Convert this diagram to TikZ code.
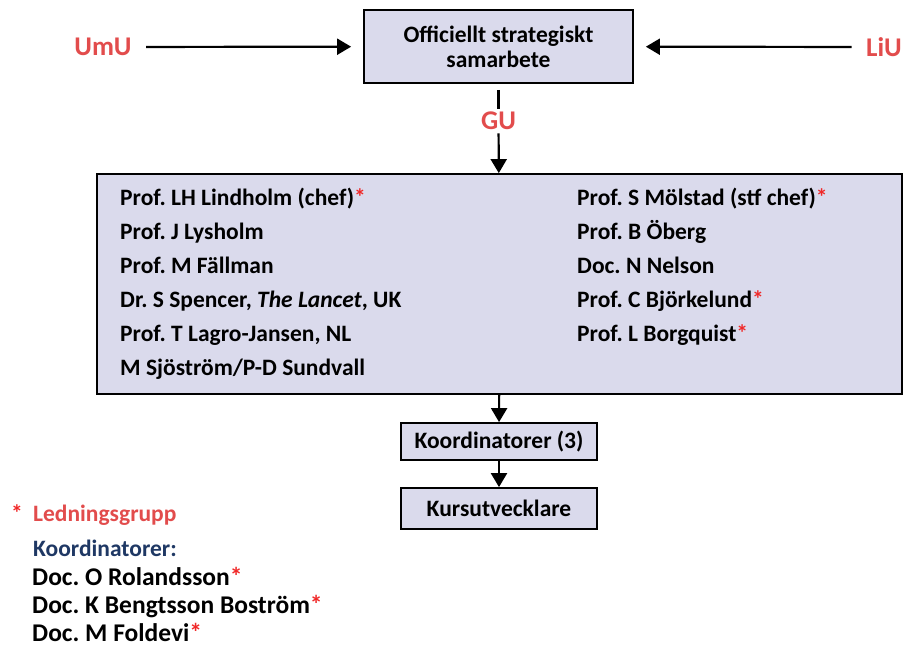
\documentclass[tikz,border=0pt]{standalone}
\usepackage{fontspec}
\setmainfont{Carlito}
\usepackage{xcolor}
\usepackage{tikz}
\usetikzlibrary{arrows.meta, positioning}
\definecolor{boxfill}{RGB}{218,218,236}
\definecolor{unired}{RGB}{226,76,76}
\definecolor{starred}{RGB}{240,40,40}
\definecolor{koordblue}{RGB}{31,56,100}
\newcommand{\redstar}{\textcolor{starred}{*}}
\frenchspacing

\begin{document}
\begin{tikzpicture}[
            box/.style={rectangle, draw=black, line width=1.8pt, fill=boxfill, align=center, font=\bfseries\fontsize{23.5}{25}\selectfont},
            member/.style={anchor=base west, inner sep=0pt, font=\bfseries\fontsize{23.5}{25}\selectfont},
            person/.style={member, font=\bfseries\fontsize{25.5}{27}\selectfont},
            uni/.style={text=unired, font=\bfseries\fontsize{27}{30}\selectfont},
            arrow/.style={line width=2.2pt, -{Triangle[length=14pt,width=16pt]}}
        ]
            \useasboundingbox (0,0) rectangle (919pt,-646pt);

            % top: the three universities
            \node[box, minimum width=269pt, minimum height=73pt] (samarbete) at (498.5pt,-46.5pt) {Officiellt strategiskt\\samarbete};
            \node[uni] (umu) at (103pt,-47pt) {UmU};
            \node[uni] (liu) at (884pt,-47pt) {LiU};
            \node[uni] (gu) at (498.5pt,-121pt) {GU};

            \draw[arrow, shorten <=11pt, shorten >=12pt] (umu) -- (samarbete);
            \draw[arrow, shorten <=11pt, shorten >=12pt] (liu) -- (samarbete);
            \draw[line width=2.2pt, shorten <=6pt] (samarbete) -- (gu);

            % styrgrupp
            \node[box, minimum width=805pt, minimum height=220pt] (styrgrupp) at (499.5pt,-284pt) {};
            \draw[arrow] (gu) -- (styrgrupp);

            \node[member] (m1) at (120pt,-205pt) {Prof. LH Lindholm (chef)\redstar};
            \node[member] (m2) at (120pt,-239pt) {Prof. J Lysholm};
            \node[member] (m3) at (120pt,-273pt) {Prof. M Fällman};
            \node[member] (m4) at (120pt,-307pt) {Dr. S Spencer, \textit{The Lancet}, UK};
            \node[member] (m5) at (120pt,-341pt) {Prof. T Lagro-Jansen, NL};
            \node[member] (m6) at (120pt,-375pt) {M Sjöström/P-D Sundvall};

            \node[member] (n1) at (577pt,-205pt) {Prof. S Mölstad (stf chef)\redstar};
            \node[member] (n2) at (577pt,-239pt) {Prof. B Öberg};
            \node[member] (n3) at (577pt,-273pt) {Doc. N Nelson};
            \node[member] (n4) at (577pt,-307pt) {Prof. C Björkelund\redstar};
            \node[member] (n5) at (577pt,-341pt) {Prof. L Borgquist\redstar};

            % koordinatorer and kursutvecklare
            \node[box, minimum width=196pt, minimum height=37pt] (koord) at (499pt,-441.5pt) {Koordinatorer (3)};
            \node[box, minimum width=196pt, minimum height=41pt] (kursutv) at (499pt,-508.5pt) {Kursutvecklare};
            \draw[arrow] (styrgrupp) -- (koord);
            \draw[arrow] (koord) -- (kursutv);

            % legend
            \node[member, text=unired] (ledning) at (33pt,-521.5pt) {Ledningsgrupp};
            \node[member, text=starred, anchor=base east] (legstar) at (23pt,-521.5pt) {*};
            \node[member, text=koordblue] (kordhead) at (33pt,-556.5pt) {Koordinatorer:};
            \node[person] (k1) at (32pt,-585pt) {Doc. O Rolandsson\redstar};
            \node[person] (k2) at (32pt,-613pt) {Doc. K Bengtsson Boström\redstar};
            \node[person] (k3) at (32pt,-641pt) {Doc. M Foldevi\redstar};
        \end{tikzpicture}
\end{document}
